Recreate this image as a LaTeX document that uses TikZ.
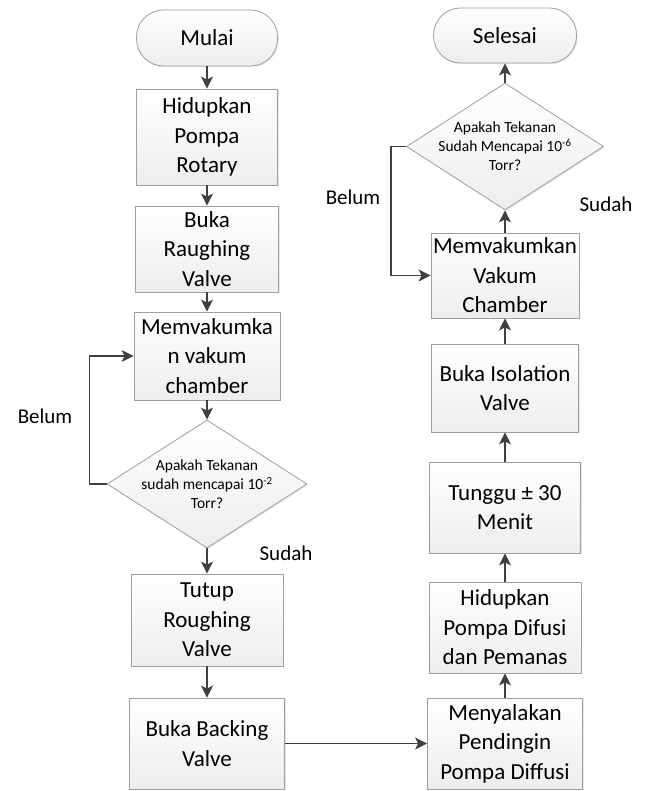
\documentclass[tikz,border=0pt]{standalone}
\usepackage{fontspec}
\setmainfont{Carlito}
\usetikzlibrary{shapes.geometric,arrows.meta,shadows}
\begin{document}
\begin{tikzpicture}[x=1pt,y=-1pt,
  boxbase/.style={draw=gray!75!black!60, line width=0.8pt, top color=white, bottom color=gray!14,
    drop shadow={shadow xshift=1.2pt,shadow yshift=-1.2pt,opacity=0.18}},
  procbox/.style={boxbase, rectangle, align=center, inner sep=2pt,
    font=\fontsize{23}{29.5}\selectfont},
  termbox/.style={boxbase, rectangle, rounded corners=27pt, align=center,
    font=\fontsize{23}{29.5}\selectfont},
  decbox/.style={boxbase, diamond, inner sep=0pt},
  dectext/.style={align=center, inner sep=0pt, font=\fontsize{15.5}{19}\selectfont},
  lbl/.style={font=\fontsize{21}{25}\selectfont, inner sep=0pt},
  arr/.style={draw=black!75, line width=1.7pt, -{Stealth[length=12pt,width=12pt,inset=3pt]}}
]
\useasboundingbox (0,0) rectangle (651,791);

% left column
\node[termbox, minimum width=141pt, minimum height=56pt] (mulai) at (207,38) {Mulai};
\node[procbox, minimum width=141pt, minimum height=96pt] (h1) at (207,137) {Hidupkan\\Pompa\\Rotary};
\node[procbox, minimum width=143pt, minimum height=86pt] (h2) at (207,249) {Buka\\Raughing\\Valve};
\node[procbox, minimum width=146pt, minimum height=88pt] (h3) at (207,356) {Memvakumka\\n vakum\\chamber};
\node[decbox, minimum width=200pt, minimum height=128pt] (d1) at (207,484) {};
\node[dectext] (t1) at (d1.center) {Apakah Tekanan\\sudah mencapai 10\textsuperscript{-2}\\Torr?};
\node[procbox, minimum width=152pt, minimum height=92pt] (h4) at (207,620) {Tutup\\Roughing\\Valve};
\node[procbox, minimum width=155pt, minimum height=91pt] (h5) at (207,743.5) {Buka Backing\\Valve};

% right column
\node[procbox, minimum width=155pt, minimum height=91pt] (r1) at (505,743.5) {Menyalakan\\Pendingin\\Pompa Diffusi};
\node[procbox, minimum width=152pt, minimum height=91pt] (r2) at (505,627.5) {Hidupkan\\Pompa Difusi\\dan Pemanas};
\node[procbox, minimum width=151pt, minimum height=91pt] (r3) at (505,507.5) {Tunggu ± 30\\Menit};
\node[procbox, minimum width=147pt, minimum height=88pt] (r4) at (505,388) {Buka Isolation\\Valve};
\node[procbox, minimum width=142pt, minimum height=85pt] (r5) at (505,275.5) {Memvakumkan\\Vakum\\Chamber};
\node[decbox, minimum width=197pt, minimum height=127pt] (d2) at (505,146.5) {};
\node[dectext] (t2) at (d2.center) {Apakah Tekanan\\Sudah Mencapai 10\textsuperscript{-6}\\Torr?};
\node[termbox, minimum width=143pt, minimum height=55pt] (selesai) at (505,35.5) {Selesai};

% labels
\node[lbl] (belum1) at (45,416) {Belum};
\node[lbl] (sudah1) at (286,553) {Sudah};
\node[lbl] (belum2) at (353,197) {Belum};
\node[lbl] (sudah2) at (606,204) {Sudah};

% connectors left
\draw[arr] (mulai) -- (h1);
\draw[arr] (h1) -- (h2);
\draw[arr] (h2) -- (h3);
\draw[arr] (h3) -- (d1);
\draw[arr] (d1) -- (h4);
\draw[arr] (h4) -- (h5);
\draw[arr] (d1.west) -- ++(-17,0) |- (h3.west);
% bridge
\draw[arr] (h5.east) -- (r1.west);
% connectors right
\draw[arr] (r1) -- (r2);
\draw[arr] (r2) -- (r3);
\draw[arr] (r3) -- (r4);
\draw[arr] (r4) -- (r5);
\draw[arr] (r5) -- (d2);
\draw[arr] (d2) -- (selesai);
\draw[arr] (d2.west) -- ++(-15,0) |- (r5.west);
\end{tikzpicture}
\end{document}
